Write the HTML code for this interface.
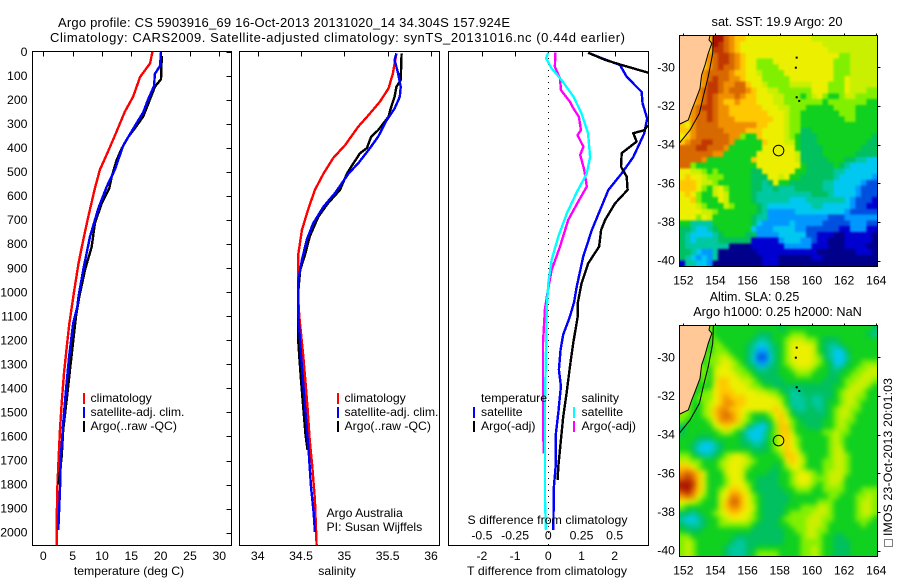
<!DOCTYPE html>
<html lang="en">
<head>
<meta charset="utf-8">
<title>Argo profile chart</title>
<style>
html,body{margin:0;padding:0;background:#fff;}
svg{display:block;font-family:"Liberation Sans",sans-serif;font-size:12.25px;fill:#000;}
text{fill:#000;stroke:none;}
</style>
</head>
<body>
<svg id="chart" xmlns="http://www.w3.org/2000/svg" width="900" height="580" viewBox="0 0 900 580">
<defs>
<clipPath id="clip-p1"><rect x="32.5" y="51.5" width="199" height="494"/></clipPath>
<clipPath id="clip-p2"><rect x="239.5" y="51.5" width="200" height="494"/></clipPath>
<clipPath id="clip-p3"><rect x="448.5" y="51.5" width="200" height="494"/></clipPath>
<clipPath id="clip-m1"><rect x="679.5" y="35.5" width="198" height="231"/></clipPath>
<clipPath id="clip-m2"><rect x="679.5" y="325.5" width="198" height="231"/></clipPath>
<filter id="blur-sst" color-interpolation-filters="sRGB"><feGaussianBlur stdDeviation="1"/></filter>
<filter id="blur-sla" color-interpolation-filters="sRGB"><feGaussianBlur stdDeviation="2.6"/></filter>
</defs>
<rect width="900" height="580" fill="#fff"/>
<g id="marks"></g>

<text x="58" y="27" font-size="13" textLength="452" lengthAdjust="spacing">Argo profile: CS 5903916_69 16-Oct-2013 20131020_14 34.304S 157.924E</text>
<text x="50" y="42" font-size="13" textLength="575" lengthAdjust="spacing">Climatology: CARS2009. Satellite-adjusted climatology: synTS_20131016.nc (0.44d earlier)</text>

<text x="129" y="575" text-anchor="middle">temperature (deg C)</text>
<text x="337" y="575" text-anchor="middle">salinity</text>
<text x="547" y="575" text-anchor="middle" textLength="160" lengthAdjust="spacing">T difference from climatology</text>
<text x="547.5" y="524" text-anchor="middle" textLength="160" lengthAdjust="spacing">S difference from climatology</text>

<g>
<rect x="83" y="393" width="2" height="11" fill="#f00"/>
<rect x="83" y="407" width="2" height="11" fill="#00f"/>
<rect x="83" y="421" width="2" height="11" fill="#000"/>
<text x="90.5" y="402">climatology</text>
<text x="90.5" y="416">satellite-adj. clim.</text>
<text x="90.5" y="430">Argo(..raw -QC)</text>
</g>
<g>
<rect x="337" y="393" width="2" height="11" fill="#f00"/>
<rect x="337" y="407" width="2" height="11" fill="#00f"/>
<rect x="337" y="421" width="2" height="11" fill="#000"/>
<text x="344.5" y="402">climatology</text>
<text x="344.5" y="416">satellite-adj. clim.</text>
<text x="344.5" y="430">Argo(..raw -QC)</text>
</g>
<text x="326.5" y="517">Argo Australia</text>
<text x="326.5" y="531">PI: Susan Wijffels</text>
<g>
<text x="481" y="402">temperature</text>
<rect x="473" y="407" width="2" height="11" fill="#00f"/>
<text x="481" y="416">satellite</text>
<rect x="473" y="421" width="2" height="11" fill="#000"/>
<text x="481" y="430">Argo(-adj)</text>
<text x="581.5" y="402">salinity</text>
<rect x="573" y="407" width="2" height="11" fill="#0ff"/>
<text x="581.5" y="416">satellite</text>
<rect x="573" y="421" width="2" height="11" fill="#f0f"/>
<text x="581.5" y="430">Argo(-adj)</text>
</g>

<text x="777" y="26" text-anchor="middle" font-size="12.8">sat. SST: 19.9 Argo: 20</text>
<text x="754.5" y="301" text-anchor="middle" font-size="12.5">Altim. SLA: 0.25</text>
<text x="777.5" y="316" text-anchor="middle" font-size="12.7">Argo h1000: 0.25 h2000: NaN</text>
<text transform="translate(892,536) rotate(-90)" textLength="158" lengthAdjust="spacing">IMOS 23-Oct-2013 20:01:03</text>
<rect x="884.5" y="539.5" width="8" height="7" fill="none" stroke="#000" stroke-width="1" stroke-dasharray="1 1"/>
</svg>

<script>
// ---- axis ticks and labels ----
const depthTicks = [0,100,200,300,400,500,600,700,800,900,1000,1100,1200,1300,1400,1500,1600,1700,1800,1900,2000];
const tempTicks = [0,5,10,15,20,25,30];
const salinityTicks = [34,34.5,35,35.5,36];
const tDiffTicks = [-2,-1,0,1,2];
const sDiffTicks = [-0.5,-0.25,0,0.25,0.5];
const lonTicks = [152,154,156,158,160,162,164];
const latTicks = [-30,-32,-34,-36,-38,-40];

// ---- temperature profiles ----
const tempClimDepth = [0,47,104,186,248,331,421,490,567,685,783,880,1004,1128,1225,1336,1460,1571,1682,1820,1959,2052];
const tempClimValue = [18.6,18.2,16.5,15.3,13.9,12.5,10.9,9.65,8.8,7.67,6.8,6.0,5.2,4.45,4.0,3.53,3.13,2.85,2.62,2.39,2.28,2.28];
const tempSatDepth = [0,57,92,140,195,250,320,390,490,560,650,768,907,1018,1060,1128,1267,1405,1544,1682,1820,1990];
const tempSatValue = [20.06,19.9,19.0,18.9,17.9,17.05,15.3,13.6,12.2,10.8,9.4,7.96,6.8,6.0,5.8,5.1,4.4,3.87,3.4,3.0,2.85,2.56];
const tempArgoDepth = [17,113,144,196,268,318,353,400,450,519,567,630,713,810,907,1018,1100,1225,1322,1447,1571,1682,1800];
const tempArgoValue = [20.2,20.06,19.04,18.2,17.05,15.6,14.5,13.4,12.5,11.66,11.25,9.95,8.8,8.25,7.1,6.14,5.57,5.0,4.55,3.99,3.4,3.13,2.6];

// ---- salinity profiles ----
const salClimDepth = [6,89,151,207,262,311,387,442,505,574,657,741,838,963,1039,1101,1171,1268,1379,1490,1615,1726,1864,2052];
const salClimValue = [35.60,35.56,35.51,35.41,35.28,35.16,35.01,34.87,34.76,34.66,34.58,34.51,34.47,34.47,34.47,34.48,34.50,34.526,34.553,34.577,34.60,34.63,34.66,34.68];
const salSatDepth = [6,33,89,145,186,235,283,352,408,463,505,588,643,713,782,866,949,1067,1101,1212,1310,1448,1560,1670,1809,1920,1997];
const salSatValue = [35.60,35.58,35.62,35.65,35.64,35.58,35.49,35.39,35.28,35.16,35.05,34.89,34.76,34.64,34.565,34.51,34.47,34.47,34.47,34.49,34.51,34.54,34.565,34.59,34.615,34.646,34.66];
const salArgoDepth = [6,117,145,186,241,269,325,352,400,421,477,505,574,630,685,768,838,907,990,1101,1212,1268,1365,1476,1587,1656];
const salArgoValue = [35.66,35.65,35.60,35.58,35.53,35.51,35.39,35.31,35.26,35.18,35.08,35.03,34.95,34.81,34.70,34.60,34.55,34.49,34.47,34.465,34.47,34.48,34.50,34.525,34.55,34.575];

// ---- difference profiles ----
const dTSatDepth = [3,26,54,103,166,214,277,339,437,505,574,741,852,977,1039,1101,1176,1238,1322,1391,1502,1587,1712,1809,1990];
const dTSatValue = [1.2,1.61,2.16,2.36,2.81,2.84,2.98,2.89,2.56,2.21,1.81,1.31,1.05,0.855,0.78,0.65,0.45,0.37,0.32,0.38,0.30,0.23,0.23,0.17,0.15];
const dTArgoDepth = [3,33,54,86,150,250,311,325,338,373,421,477,519,574,630,699,741,810,880,963,1046,1101,1212,1310,1420,1518,1615,1726,1781];
const dTArgoValue = [1.2,1.71,2.21,3.01,4.0,4.0,2.96,2.9,2.56,2.66,2.21,2.19,2.36,2.39,2.01,1.71,1.59,1.53,1.2,1.0,0.885,0.885,0.75,0.65,0.55,0.45,0.38,0.30,0.28];
const dSSatDepth = [3,26,68,117,186,255,339,437,505,588,671,768,866,963,1067,1238,1449,1726,1864,1990];
const dSSatValue = [0,-0.017,0.025,0.10,0.19,0.25,0.30,0.315,0.29,0.21,0.14,0.075,0.025,0,-0.012,-0.017,-0.025,-0.025,-0.025,-0.017];
const dSArgoDepth = [3,62,110,159,207,235,269,325,346,394,428,490,560,622,699,810,907,990,1067,1115,1212,1532,1670];
const dSArgoValue = [0.053,0.05,0.088,0.096,0.163,0.19,0.23,0.246,0.22,0.264,0.24,0.27,0.29,0.226,0.15,0.088,0.025,-0.002,-0.025,-0.03,-0.04,-0.04,-0.035];

// ---- map geography ----
const coastLon = [153.66,153.6,153.77,153.55,153.35,153.14,153.04,152.73,152.52,152.31,151.79];
const coastLat = [-28.35,-28.59,-28.76,-29.28,-29.88,-30.40,-31.09,-31.78,-32.21,-32.72,-32.93];
const isobathLon = [153.87,153.83,153.55,153.24,153.0,152.42,151.75];
const isobathLat = [-28.35,-29.28,-30.49,-31.52,-32.38,-33.24,-33.93];
const islandLon = [159.05,159.0,159.05,159.21];
const islandLat = [-29.5,-30.02,-31.55,-31.74];
const profileLon = [157.924];
const profileLat = [-34.304];

// ---- heatmap colour levels (0 cold/low .. 15 warm/high), north to south ----
const sstLevels = [
[11,11,11,11,11,11,15,15,13,12,11,11,10,10,10,10,10,10,10,10,10,10,10,10,9,9,9,9,9,9,9,9,9,9,9,9],
[11,11,11,11,11,11,15,14,13,12,11,10,10,10,10,10,10,10,10,10,10,10,10,10,10,10,9,9,9,9,9,9,9,9,9,9],
[11,11,11,11,11,11,14,14,13,12,11,10,10,10,10,10,10,10,10,10,10,10,10,10,10,10,10,9,9,9,9,9,9,9,9,9],
[11,11,11,11,11,12,13,14,14,13,12,11,10,10,10,10,10,10,10,10,10,10,10,10,10,10,10,10,10,8,8,9,9,9,9,9],
[11,11,11,11,11,12,13,14,14,13,12,11,10,10,8,8,8,10,10,10,10,10,10,10,10,10,10,10,8,8,8,9,9,9,9,9],
[11,11,11,11,11,12,13,14,13,13,12,11,10,10,8,8,8,8,10,10,10,10,10,10,10,10,10,10,8,8,8,9,9,9,9,9],
[11,11,11,11,12,13,13,13,13,12,11,11,10,10,9,8,8,8,8,10,10,10,10,10,10,10,10,10,8,8,8,9,9,9,9,9],
[11,11,11,11,12,13,14,13,13,12,12,11,10,10,10,8,8,8,8,8,10,10,10,10,10,10,10,10,8,8,10,9,9,9,9,9],
[11,11,11,11,12,14,14,13,12,12,13,13,11,10,10,9,8,8,8,8,9,9,9,9,10,10,10,8,8,8,10,9,9,9,9,9],
[11,11,11,12,13,14,14,13,12,13,13,13,12,11,10,10,9,9,8,8,8,8,8,8,10,10,10,8,8,8,10,9,9,9,8,8],
[11,11,11,12,13,14,13,12,12,12,13,12,11,11,10,10,10,9,9,8,8,8,7,8,9,10,8,7,7,8,9,9,8,8,8,8],
[11,11,11,12,13,14,13,12,11,11,12,11,11,11,10,10,10,9,9,8,8,8,8,8,8,8,7,8,8,8,8,8,8,8,7,7],
[11,11,12,13,14,14,13,12,12,11,11,11,11,11,11,10,10,10,9,9,8,8,8,7,7,7,7,7,8,8,8,8,7,7,7,7],
[11,11,12,13,13,14,13,12,12,11,11,11,11,11,11,11,10,10,10,9,8,8,7,7,7,7,7,7,7,8,8,8,7,7,7,7],
[10,11,12,13,13,14,13,12,12,12,11,11,11,11,11,11,11,10,10,9,8,8,7,7,7,7,7,7,7,7,8,8,7,7,7,7],
[11,10,12,13,13,13,13,12,12,12,12,12,12,12,11,11,10,10,10,9,8,8,7,7,7,7,7,7,7,7,7,7,7,7,7,7],
[11,11,12,13,13,13,13,13,12,12,12,12,11,11,11,10,10,10,10,9,8,8,6,6,7,7,7,7,7,7,7,7,7,7,7,7],
[10,11,12,13,13,13,13,13,13,12,12,8,7,7,11,10,10,10,10,9,8,7,6,6,6,7,7,7,7,7,7,7,7,7,7,6],
[11,12,13,13,14,14,13,13,13,12,7,7,7,7,7,11,10,10,10,9,9,7,6,6,6,7,7,7,7,7,7,7,7,7,6,6],
[13,13,13,14,14,13,13,13,12,7,7,7,7,7,7,10,10,10,10,10,10,7,6,6,6,6,7,7,7,7,7,7,7,6,6,6],
[13,13,13,13,13,13,12,12,7,7,7,7,7,7,10,10,10,10,10,10,10,9,6,6,6,6,7,7,7,7,7,7,6,6,6,6],
[13,13,13,13,12,7,7,7,7,7,7,7,7,11,10,10,10,10,10,10,10,9,6,6,6,6,6,7,7,7,6,6,5,5,4,4],
[13,13,8,7,7,7,7,7,7,7,7,7,7,7,10,10,10,10,10,10,10,10,7,6,6,6,6,6,7,6,5,4,4,4,4,4],
[10,10,9,9,8,7,8,7,7,7,7,7,7,6,6,10,10,10,10,10,10,7,7,6,6,6,6,6,5,5,4,4,4,4,4,4],
[10,11,10,10,9,8,8,8,7,7,7,7,7,6,6,6,10,10,9,10,7,7,6,6,6,6,6,6,5,4,4,4,4,4,4,3],
[11,11,11,10,9,9,8,7,7,7,7,7,7,6,6,5,6,10,7,7,6,6,6,6,6,6,5,5,4,4,4,4,4,3,2,2],
[11,11,11,10,8,7,9,10,8,7,7,7,7,6,6,5,5,6,5,5,5,6,6,6,6,6,5,5,4,4,4,4,3,2,2,2],
[10,11,10,8,7,7,9,10,9,7,7,7,7,6,5,5,5,5,5,5,5,5,5,5,6,6,6,5,4,4,4,4,3,2,2,2],
[10,10,11,8,7,7,7,10,9,7,7,7,7,6,5,5,5,5,5,5,4,4,4,5,5,5,5,5,5,5,4,3,2,2,2,1],
[10,10,10,9,8,7,7,7,9,8,7,7,7,7,6,5,4,4,4,4,4,4,4,4,5,5,4,4,4,4,4,3,2,2,1,1],
[10,10,10,10,9,9,8,7,7,7,7,7,7,7,6,5,3,3,3,3,3,4,4,4,4,4,4,4,4,4,3,2,2,2,2,2],
[10,10,10,8,10,9,7,7,7,7,7,7,7,6,5,5,3,3,3,3,3,3,3,3,3,3,3,2,2,2,3,3,3,3,3,3],
[7,7,5,5,5,5,7,7,7,7,7,7,7,6,4,3,3,3,3,3,4,3,3,3,3,3,2,2,2,2,2,3,3,3,2,2],
[6,6,5,4,4,5,6,7,7,7,7,7,7,4,3,3,3,4,4,4,4,3,3,2,2,2,2,2,2,1,1,3,3,3,1,1],
[6,5,4,4,4,4,5,6,7,7,7,7,6,6,3,3,3,3,4,4,4,4,4,2,2,1,1,1,0,0,1,1,1,1,1,0],
[6,5,4,5,5,5,5,6,6,6,6,6,6,1,1,1,1,1,3,4,4,4,3,3,2,1,1,0,0,0,1,1,1,1,1,0],
[6,5,5,5,5,5,5,5,5,0,0,0,0,1,1,1,1,1,1,3,3,3,3,3,1,1,1,0,0,0,1,1,1,1,0,0],
[6,6,5,4,3,3,5,0,0,0,0,0,0,0,1,1,1,1,1,1,1,1,1,1,1,0,0,0,0,0,0,0,1,1,1,0],
[6,5,4,3,4,3,5,0,0,0,0,0,0,0,0,1,1,1,0,0,0,0,0,0,1,1,0,0,0,0,0,0,0,0,0,0],
[1,5,5,4,4,3,0,0,0,0,0,0,0,0,0,1,1,1,0,0,0,0,0,0,0,0,0,0,0,0,0,0,0,0,0,0]
];
const slaLevels = [
[8,8,8,8,8,8,7,7,7,7,7,7,7,7,7,7,7,7,6,7,7,7,7,7,7,7,7,7,7,7,7,7,7,7,7,6],
[8,8,8,8,8,8,7,7,7,7,7,7,7,7,6,6,6,7,7,7,8,8,8,7,7,7,7,7,7,7,7,7,7,7,6,5],
[8,8,8,8,8,7,8,7,7,7,7,7,7,6,5,5,6,7,7,8,9,9,9,8,8,7,6,6,6,7,7,7,7,7,7,7],
[8,8,8,8,8,7,8,8,7,7,7,7,6,5,4,4,5,6,7,8,10,10,10,10,9,7,6,5,5,6,7,7,7,7,7,7],
[8,8,8,8,8,7,8,8,8,7,7,7,6,5,3,3,5,6,7,8,10,10,10,10,9,7,6,5,4,4,6,7,7,7,7,7],
[8,8,8,8,7,8,8,9,9,8,7,7,6,4,2,2,4,6,7,8,10,10,10,10,9,8,6,5,4,4,5,7,7,7,7,7],
[8,8,8,8,7,8,8,9,10,9,8,7,6,5,3,3,5,6,7,8,9,10,10,10,9,8,7,6,4,4,6,7,7,8,8,8],
[8,8,8,8,8,7,9,10,10,9,8,8,7,6,5,5,6,6,7,7,8,9,9,9,8,7,7,6,5,6,7,7,8,8,9,9],
[8,8,8,7,8,7,9,10,10,10,9,8,8,7,6,6,6,6,7,7,7,8,8,8,7,7,7,6,6,7,7,8,8,9,9,9],
[8,8,8,7,8,7,9,11,11,10,10,9,9,8,7,6,6,6,6,7,7,7,7,7,7,7,6,6,6,7,8,8,9,9,9,8],
[8,8,8,7,7,7,10,11,11,10,10,10,9,8,8,7,7,6,6,6,6,6,6,6,6,6,6,6,7,7,8,9,9,9,8,7],
[8,8,7,7,8,8,10,11,11,11,10,10,10,10,9,9,8,8,7,6,5,5,6,6,6,6,6,6,7,8,9,9,9,8,7,7],
[8,8,7,8,8,8,10,11,12,11,11,11,10,10,10,10,10,9,8,7,5,5,5,6,5,5,6,6,7,8,9,9,8,8,7,7],
[8,8,7,7,8,9,10,11,12,12,11,11,10,10,10,10,10,10,9,7,5,5,5,6,5,5,6,7,7,8,9,9,8,7,7,7],
[8,8,7,7,8,9,11,12,12,11,11,10,10,10,10,10,10,11,10,8,6,5,5,6,6,5,6,7,8,9,9,8,8,7,7,7],
[8,8,7,7,8,9,11,12,13,12,11,10,8,7,7,7,8,10,11,9,7,6,6,6,6,6,6,7,8,9,9,8,7,7,7,7],
[8,7,7,7,7,8,10,12,12,12,11,9,8,7,6,6,7,9,11,10,8,7,6,6,6,6,7,7,8,9,8,8,7,7,7,7],
[6,7,7,7,7,7,9,10,11,10,9,8,6,5,4,4,6,8,11,11,8,7,7,6,6,6,7,7,8,9,8,7,7,7,7,7],
[6,7,7,7,7,7,7,8,9,8,7,6,4,4,4,5,7,8,11,11,9,7,7,7,7,7,8,8,9,8,8,7,7,7,7,7],
[7,7,7,6,6,6,7,7,7,7,7,6,5,4,4,5,7,8,10,11,10,8,7,7,7,7,7,8,9,8,7,7,7,7,7,7],
[7,7,6,5,4,4,5,6,7,7,7,6,6,5,5,6,7,8,10,11,10,8,7,7,7,7,7,8,9,8,7,7,7,7,7,7],
[7,7,6,4,4,4,5,6,7,7,7,7,7,6,6,6,7,8,9,11,10,9,7,7,7,7,7,8,9,9,7,7,7,7,7,7],
[8,8,7,6,5,5,6,7,8,9,10,9,8,7,7,7,7,7,8,11,11,10,8,7,7,7,7,8,9,9,8,7,7,7,7,7],
[9,9,8,8,7,7,7,8,9,10,10,10,9,8,7,7,7,7,7,10,11,10,9,7,7,7,8,8,9,9,8,7,7,7,7,7],
[11,11,10,8,7,7,7,8,9,10,10,9,8,7,7,7,7,6,7,8,10,10,8,7,7,7,8,8,9,9,8,7,7,7,7,7],
[12,13,12,11,9,7,7,7,9,10,10,9,7,7,7,7,6,6,7,7,8,9,10,9,8,7,8,9,9,9,8,7,7,7,7,7],
[13,14,13,11,9,7,7,7,8,10,10,9,7,7,6,6,6,6,7,7,8,10,10,10,8,8,8,9,9,9,7,7,7,7,7,7],
[15,15,14,11,9,7,7,7,8,10,10,10,8,7,6,6,6,6,7,7,8,9,10,9,8,7,8,9,9,8,7,7,7,7,7,7],
[14,15,13,11,9,7,7,8,10,11,11,10,9,7,6,6,6,6,6,7,7,8,8,8,7,7,8,8,8,8,7,7,7,8,8,8],
[12,13,12,10,8,7,7,9,10,12,12,11,10,8,7,6,6,6,6,6,7,7,7,7,7,7,7,8,8,7,7,7,8,8,9,8],
[10,10,9,8,7,7,7,9,11,13,13,11,10,8,7,6,6,6,6,6,7,7,7,7,7,8,8,8,7,7,7,7,8,9,9,8],
[8,7,7,7,7,7,7,9,11,12,12,11,10,9,7,6,6,6,6,7,7,7,8,8,8,9,9,8,7,7,7,7,8,9,9,8],
[6,6,5,6,7,7,8,9,10,11,11,10,10,8,7,6,6,6,6,7,8,8,8,8,9,9,9,8,7,7,7,7,8,9,9,8],
[5,4,4,5,6,7,7,8,9,10,10,10,9,8,7,6,6,6,7,8,8,8,8,9,9,9,8,8,7,7,7,7,8,8,8,7],
[6,5,5,5,6,7,7,8,8,8,8,8,8,7,6,6,6,6,7,7,8,8,8,9,9,9,8,7,7,7,7,7,7,8,7,7],
[7,6,6,6,7,7,7,7,7,7,7,7,7,6,6,6,6,6,6,7,7,8,8,9,9,8,8,7,7,7,7,7,7,7,7,7],
[8,8,7,7,7,7,7,7,7,7,6,6,6,6,6,6,6,6,6,7,7,7,8,9,9,8,7,7,6,6,7,7,7,7,7,7],
[8,9,8,7,7,7,7,7,7,6,5,5,6,6,6,6,6,6,6,7,7,7,8,8,8,8,7,7,6,6,6,7,7,7,7,7],
[8,9,8,7,7,7,7,7,6,5,5,5,6,6,7,7,7,7,7,7,7,7,8,8,9,8,7,7,6,6,6,7,7,7,7,7],
[8,9,8,7,7,7,7,7,6,5,5,5,6,7,8,8,8,8,7,7,7,7,8,8,9,8,7,7,6,6,6,7,7,7,7,7]
];
const levelColors = ["#00008b","#0000d0","#0050e0","#0098ff","#00c8f0","#00c8a0","#00c060","#10d020","#80f000","#c8f000","#ecf000","#ffc800","#f09000","#d86800","#c03800","#a81000"];

// ---- axis functions ----
function yDepth(d){ return 52 + 0.2403 * d; }
function xTemp(t){ return 43.3 + 5.867 * t; }
function xSal(s){ return 257.7 + 86.67 * (s - 34); }
function xDT(t){ return 548.3 + 33.2 * t; }
function xDS(s){ return 548.3 + 132.8 * s; }
function xLon(lon){ return 683.3 + 16.08 * (lon - 152); }
function yLat(lat, y30){ return y30 + 19.34 * (-30 - lat); }

const NS = "http://www.w3.org/2000/svg";
const marks = document.getElementById("marks");

function make(tag, name, parent, attrs){
  const el = document.createElementNS(NS, tag);
  
  
  for (const k in attrs) el.setAttribute(k, attrs[k]);
  parent.appendChild(el);
  return el;
}
function label(name, x, y, str, anchor, parent){
  const el = make("text", name, parent || marks, {x: x, y: y, "text-anchor": anchor});
  el.textContent = str;
}
function profile(name, xs, ys, xFn, color, clip){
  let d = "";
  for (let i = 0; i < xs.length; i++){
    d += (i ? "L" : "M") + xFn(xs[i]).toFixed(1) + " " + yDepth(ys[i]).toFixed(1);
  }
  make("path", name, marks, {d: d, fill: "none", stroke: color, "stroke-width": 2.4, "clip-path": "url(#" + clip + ")", "shape-rendering": "crispEdges", "stroke-linejoin": "round"});
}
function frame(name, x0, y0, x1, y1){
  make("rect", name, marks, {x: x0, y: y0, width: x1 - x0, height: y1 - y0, fill: "none", stroke: "#000", "stroke-width": 1, "shape-rendering": "crispEdges"});
}
function tick(name, x1, y1, x2, y2){
  make("line", name, marks, {x1: x1, y1: y1, x2: x2, y2: y2, stroke: "#000", "stroke-width": 1, "shape-rendering": "crispEdges"});
}

// ---- profile lines ----
profile("temperature-climatology-line", tempClimValue, tempClimDepth, xTemp, "#f00", "clip-p1");
profile("temperature-argo-line", tempArgoValue, tempArgoDepth, xTemp, "#000", "clip-p1");
profile("temperature-satellite-line", tempSatValue, tempSatDepth, xTemp, "#00f", "clip-p1");
profile("salinity-climatology-line", salClimValue, salClimDepth, xSal, "#f00", "clip-p2");
profile("salinity-argo-line", salArgoValue, salArgoDepth, xSal, "#000", "clip-p2");
profile("salinity-satellite-line", salSatValue, salSatDepth, xSal, "#00f", "clip-p2");

make("line", "zero-difference-line", marks, {x1: xDT(0), y1: 52, x2: xDT(0), y2: 545, stroke: "#000", "stroke-width": 1, "stroke-dasharray": "1 5", "shape-rendering": "crispEdges"});
profile("t-difference-satellite-line", dTSatValue, dTSatDepth, xDT, "#00f", "clip-p3");
profile("t-difference-argo-line", dTArgoValue, dTArgoDepth, xDT, "#000", "clip-p3");
profile("s-difference-argo-line", dSArgoValue, dSArgoDepth, xDS, "#f0f", "clip-p3");
profile("s-difference-satellite-line", dSSatValue, dSSatDepth, xDS, "#0ff", "clip-p3");

// ---- profile axes ----
frame("temperature-panel-frame", 32.5, 51.5, 231.5, 545.5);
frame("salinity-panel-frame", 239.5, 51.5, 439.5, 545.5);
frame("difference-panel-frame", 448.5, 51.5, 648.5, 545.5);

depthTicks.forEach(function(d){
  const y = Math.round(yDepth(d)) + 0.5;
  tick("depth-tick", 226.5, y, 231.5, y);
  label("depth-tick-label", 27.5, yDepth(d) + 4, String(d), "end");
});
tempTicks.forEach(function(t){
  const x = Math.round(xTemp(t)) + 0.5;
  tick("temperature-tick", x, 51.5, x, 56.5);
  label("temperature-tick-label", xTemp(t), 560, String(t), "middle");
});
salinityTicks.forEach(function(s){
  const x = Math.round(xSal(s)) + 0.5;
  tick("salinity-tick", x, 51.5, x, 56.5);
  label("salinity-tick-label", xSal(s), 560, String(s), "middle");
});
tDiffTicks.forEach(function(t){
  const x = Math.round(xDT(t)) + 0.5;
  if (t !== 0) tick("t-difference-tick", x, 51.5, x, 56.5);
  label("t-difference-tick-label", xDT(t), 560, String(t), "middle");
});
sDiffTicks.forEach(function(s){
  label("s-difference-tick-label", xDS(s), 539.5, String(s), "middle");
});

// ---- maps ----
function drawMap(prefix, levels, top, y30, clip, blur){
  const left = 679.5, width = 198, height = 231, pad = 8;
  const g = make("g", prefix + "-heatmap", marks, {"clip-path": "url(#" + clip + ")", filter: "url(#" + blur + ")"});
  const rows = levels.length;
  levels.forEach(function(row, r){
    const cols = row.length;
    row.forEach(function(v, c){
      const x0 = left + c * width / cols - (c === 0 ? pad : 0);
      const x1 = left + (c + 1) * width / cols + (c === cols - 1 ? pad : 0.6);
      const y0 = top + r * height / rows - (r === 0 ? pad : 0);
      const y1 = top + (r + 1) * height / rows + (r === rows - 1 ? pad : 0.6);
      make("rect", prefix + "-cell", g, {
        x: x0.toFixed(2),
        y: y0.toFixed(2),
        width: (x1 - x0).toFixed(2),
        height: (y1 - y0).toFixed(2),
        fill: levelColors[Math.max(0, Math.min(15, Math.round(v)))],
        "shape-rendering": "crispEdges"
      });
    });
  });
  const geo = make("g", prefix + "-geography", marks, {"clip-path": "url(#" + clip + ")"});
  let land = "M" + xLon(151.7) + " " + yLat(-28.3, y30);
  coastLon.forEach(function(lon, i){ land += "L" + xLon(lon).toFixed(1) + " " + yLat(coastLat[i], y30).toFixed(1); });
  land += "L" + xLon(151.7) + " " + yLat(coastLat[coastLat.length - 1], y30).toFixed(1) + "Z";
  make("path", prefix + "-land", geo, {d: land, fill: "#ffc896", stroke: "none"});
  let coast = "";
  coastLon.forEach(function(lon, i){ coast += (i ? "L" : "M") + xLon(lon).toFixed(1) + " " + yLat(coastLat[i], y30).toFixed(1); });
  make("path", prefix + "-coastline", geo, {d: coast, fill: "none", stroke: "#000", "stroke-width": 1});
  let iso = "";
  isobathLon.forEach(function(lon, i){ iso += (i ? "L" : "M") + xLon(lon).toFixed(1) + " " + yLat(isobathLat[i], y30).toFixed(1); });
  make("path", prefix + "-isobath", geo, {d: iso, fill: "none", stroke: "#000", "stroke-width": 1});
  islandLon.forEach(function(lon, i){
    make("rect", prefix + "-island", geo, {x: xLon(lon) - 1, y: yLat(islandLat[i], y30) - 1, width: 2, height: 2, fill: "#000"});
  });
  profileLon.forEach(function(lon, i){
    make("circle", prefix + "-profile-marker", geo, {cx: xLon(lon), cy: yLat(profileLat[i], y30), r: 5.3, fill: "none", stroke: "#000", "stroke-width": 1});
  });
  const bottom = top + height;
  frame(prefix + "-frame", left, top, left + width, bottom);
  lonTicks.forEach(function(lon){
    const x = Math.round(xLon(lon)) + 0.5;
    tick(prefix + "-lon-tick", x, top - 2, x, top);
    label(prefix + "-lon-label", xLon(lon), bottom + 18, String(lon), "middle");
  });
  latTicks.forEach(function(lat){
    const y = Math.round(yLat(lat, y30)) + 0.5;
    tick(prefix + "-lat-tick", left + width, y, left + width + 3, y);
    label(prefix + "-lat-label", 675, yLat(lat, y30) + 4, String(lat), "end");
  });
}
drawMap("sst-map", sstLevels, 35.5, 67.3, "clip-m1", "blur-sst");
drawMap("sla-map", slaLevels, 325.5, 357.3, "clip-m2", "blur-sla");
</script>
</body>
</html>
